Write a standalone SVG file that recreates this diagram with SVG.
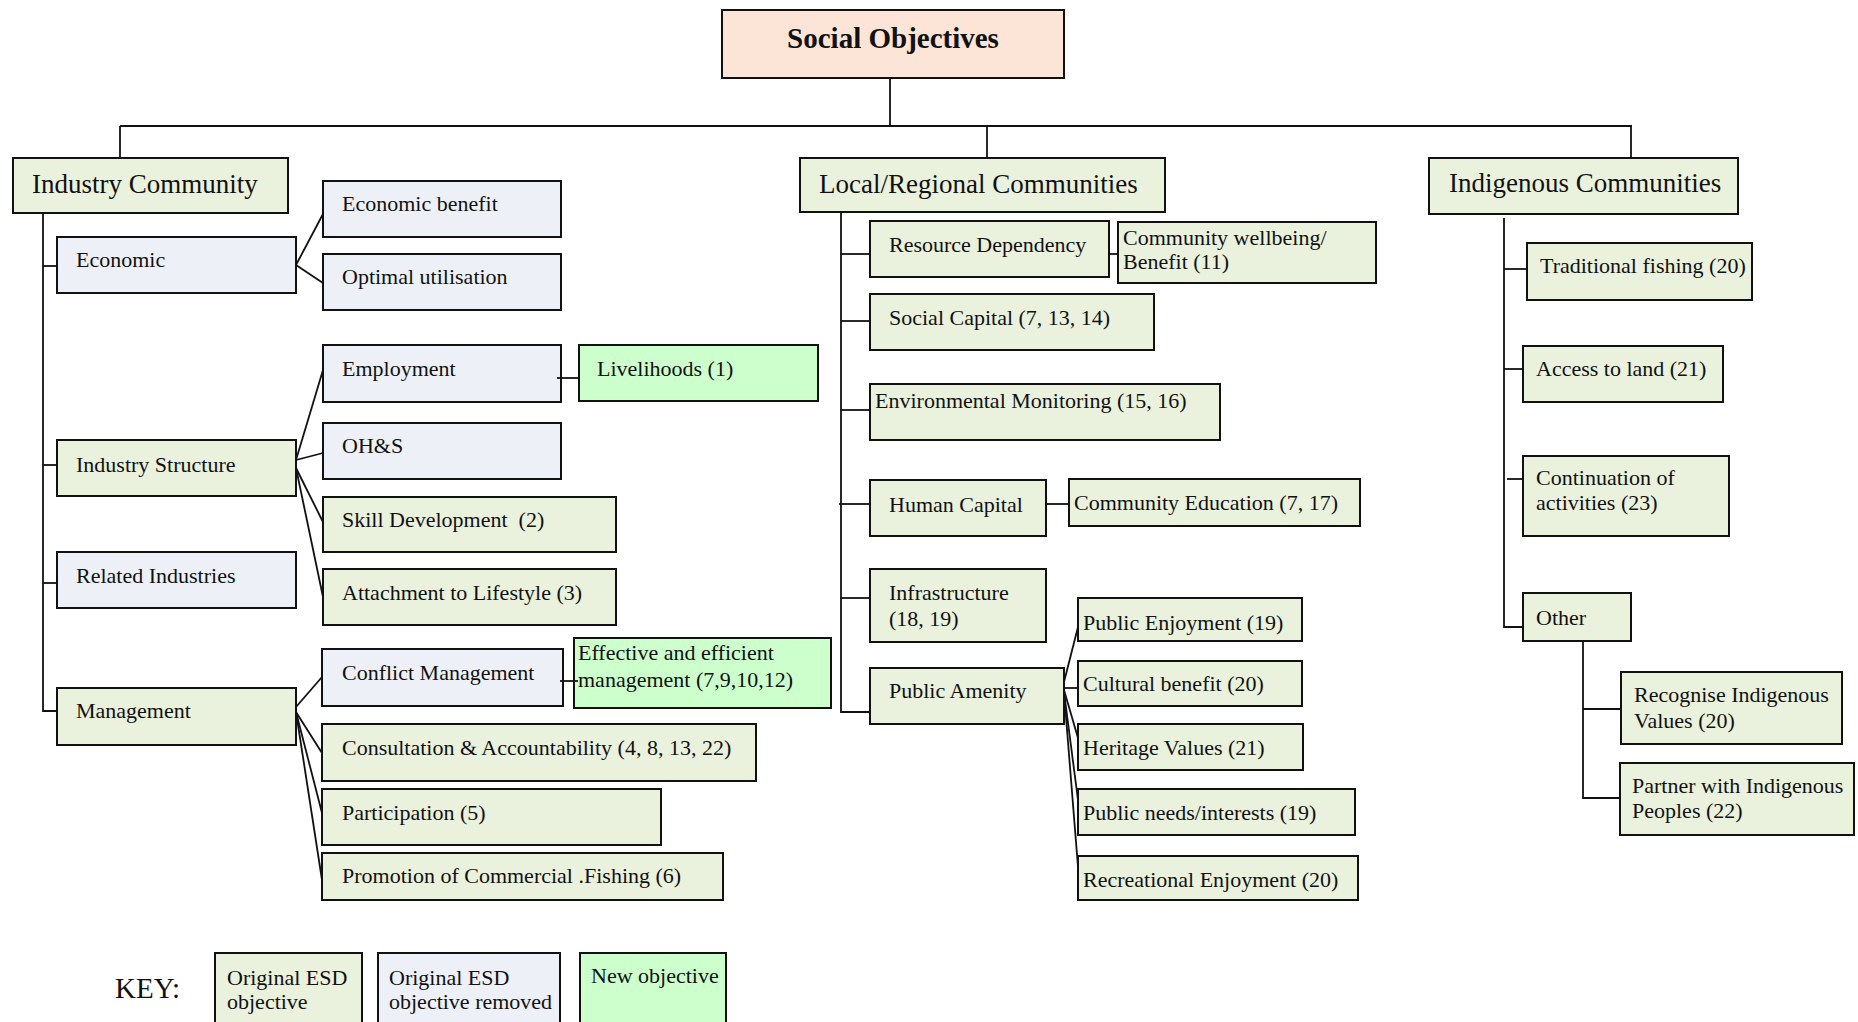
<svg xmlns="http://www.w3.org/2000/svg" width="1858" height="1022" viewBox="0 0 1858 1022">
  <style>
    rect { stroke: #111; stroke-width: 2; }
    .orig { fill: #EAF1DD; }
    .removed { fill: #EDF1F7; }
    .new { fill: #CCFFCC; }
    .title { fill: #FCE4D6; }
    text { font-family: "Liberation Serif", "Times New Roman", serif; font-size: 22px; fill: #111; }
    .hdr { font-size: 27px; }
    .ttl { font-size: 29px; font-weight: bold; }
    .key { font-size: 29px; }
    #connectors path { fill: none; stroke: #111; stroke-width: 1.8; }
  </style>
  <rect x="0" y="0" width="1858" height="1022" fill="#fff" style="stroke:none"/>

  <g id="social-objectives"><rect class="title" x="722" y="10" width="342" height="68"/><text class="ttl" x="893" y="48" text-anchor="middle">Social Objectives</text></g>

  <g id="industry-community"><rect class="orig" x="13" y="158" width="275" height="55"/><text class="hdr" x="32" y="193">Industry Community</text></g>
  <g id="local-regional"><rect class="orig" x="800" y="158" width="365" height="54"/><text class="hdr" x="819" y="193">Local/Regional Communities</text></g>
  <g id="indigenous"><rect class="orig" x="1429" y="158" width="309" height="56"/><text class="hdr" x="1449" y="192">Indigenous Communities</text></g>

  <g id="economic"><rect class="removed" x="57" y="237" width="239" height="56"/><text x="76" y="267">Economic</text></g>
  <g id="economic-benefit"><rect class="removed" x="323" y="181" width="238" height="56"/><text x="342" y="211">Economic benefit</text></g>
  <g id="optimal-utilisation"><rect class="removed" x="323" y="254" width="238" height="56"/><text x="342" y="284">Optimal utilisation</text></g>
  <g id="employment"><rect class="removed" x="323" y="345" width="238" height="57"/><text x="342" y="376">Employment</text></g>
  <g id="livelihoods"><rect class="new" x="579" y="345" width="239" height="56"/><text x="597" y="376">Livelihoods (1)</text></g>
  <g id="ohs"><rect class="removed" x="323" y="423" width="238" height="56"/><text x="342" y="453">OH&amp;S</text></g>
  <g id="industry-structure"><rect class="orig" x="57" y="440" width="239" height="56"/><text x="76" y="472">Industry Structure</text></g>
  <g id="skill-development"><rect class="orig" x="323" y="497" width="293" height="55"/><text x="342" y="527" xml:space="preserve">Skill Development  (2)</text></g>
  <g id="attachment-lifestyle"><rect class="orig" x="323" y="569" width="293" height="56"/><text x="342" y="600">Attachment to Lifestyle (3)</text></g>
  <g id="related-industries"><rect class="removed" x="57" y="552" width="239" height="56"/><text x="76" y="583">Related Industries</text></g>
  <g id="management"><rect class="orig" x="57" y="688" width="239" height="57"/><text x="76" y="718">Management</text></g>
  <g id="conflict-management"><rect class="removed" x="322" y="649" width="241" height="57"/><text x="342" y="680">Conflict Management</text></g>
  <g id="effective-management"><rect class="new" x="574" y="638" width="257" height="70"/><text x="578" y="660">Effective and efficient</text><text x="578" y="687">management (7,9,10,12)</text></g>
  <g id="consultation"><rect class="orig" x="322" y="724" width="434" height="57"/><text x="342" y="755">Consultation &amp; Accountability (4, 8, 13, 22)</text></g>
  <g id="participation"><rect class="orig" x="322" y="789" width="339" height="56"/><text x="342" y="820">Participation (5)</text></g>
  <g id="promotion"><rect class="orig" x="322" y="853" width="401" height="47"/><text x="342" y="883">Promotion of Commercial .Fishing (6)</text></g>

  <g id="resource-dependency"><rect class="orig" x="870" y="221" width="239" height="56"/><text x="889" y="252">Resource Dependency</text></g>
  <g id="community-wellbeing"><rect class="orig" x="1118" y="222" width="258" height="61"/><text x="1123" y="245">Community wellbeing/</text><text x="1123" y="269">Benefit (11)</text></g>
  <g id="social-capital"><rect class="orig" x="870" y="294" width="284" height="56"/><text x="889" y="325">Social Capital (7, 13, 14)</text></g>
  <g id="environmental-monitoring"><rect class="orig" x="870" y="384" width="350" height="56"/><text x="875" y="408">Environmental Monitoring (15, 16)</text></g>
  <g id="human-capital"><rect class="orig" x="870" y="480" width="176" height="56"/><text x="889" y="512">Human Capital</text></g>
  <g id="community-education"><rect class="orig" x="1069" y="479" width="291" height="47"/><text x="1074" y="510">Community Education (7, 17)</text></g>
  <g id="infrastructure"><rect class="orig" x="870" y="569" width="176" height="73"/><text x="889" y="600">Infrastructure</text><text x="889" y="626">(18, 19)</text></g>
  <g id="public-amenity"><rect class="orig" x="870" y="668" width="194" height="56"/><text x="889" y="698">Public Amenity</text></g>
  <g id="public-enjoyment"><rect class="orig" x="1078" y="598" width="224" height="43"/><text x="1083" y="630">Public Enjoyment (19)</text></g>
  <g id="cultural-benefit"><rect class="orig" x="1078" y="661" width="224" height="45"/><text x="1083" y="691">Cultural benefit (20)</text></g>
  <g id="heritage-values"><rect class="orig" x="1078" y="724" width="225" height="46"/><text x="1083" y="755">Heritage Values (21)</text></g>
  <g id="public-needs"><rect class="orig" x="1078" y="789" width="277" height="46"/><text x="1083" y="820">Public needs/interests (19)</text></g>
  <g id="recreational-enjoyment"><rect class="orig" x="1078" y="856" width="280" height="44"/><text x="1083" y="887">Recreational Enjoyment (20)</text></g>

  <g id="traditional-fishing"><rect class="orig" x="1527" y="243" width="225" height="57"/><text x="1540" y="273">Traditional fishing (20)</text></g>
  <g id="access-to-land"><rect class="orig" x="1523" y="346" width="200" height="56"/><text x="1536" y="376">Access to land (21)</text></g>
  <g id="continuation"><rect class="orig" x="1523" y="456" width="206" height="80"/><text x="1536" y="485">Continuation of</text><text x="1536" y="510">activities (23)</text></g>
  <g id="other"><rect class="orig" x="1523" y="593" width="108" height="48"/><text x="1536" y="625">Other</text></g>
  <g id="recognise-values"><rect class="orig" x="1621" y="672" width="221" height="72"/><text x="1634" y="702">Recognise Indigenous</text><text x="1634" y="728">Values (20)</text></g>
  <g id="partner-peoples"><rect class="orig" x="1620" y="763" width="234" height="72"/><text x="1632" y="793">Partner with Indigenous</text><text x="1632" y="818">Peoples (22)</text></g>

  <g id="legend">
    <text class="key" x="115" y="998">KEY:</text>
    <g id="key-original"><rect class="orig" x="215" y="953" width="147" height="80"/><text x="227" y="985">Original ESD</text><text x="227" y="1009">objective</text></g>
    <g id="key-removed"><rect class="removed" x="378" y="953" width="182" height="80"/><text x="389" y="985">Original ESD</text><text x="389" y="1009">objective removed</text></g>
    <g id="key-new"><rect class="new" x="580" y="953" width="146" height="80"/><text x="591" y="983">New objective</text></g>
  </g>

  <!-- connectors drawn last so the short links overlap box edges -->
  <g id="connectors">
    <path d="M890,78 V126"/>
    <path d="M120,126 H1632"/>
    <path d="M120,126 V158"/>
    <path d="M987,126 V158"/>
    <path d="M1631,126 V158"/>
    <!-- industry community branch -->
    <path d="M43,213 V711 H57"/>
    <path d="M43,266 H57"/>
    <path d="M43,465 H57"/>
    <path d="M43,583 H57"/>
    <path d="M296,265 L323,214"/>
    <path d="M296,265 L323,283"/>
    <path d="M296,460 L323,370"/>
    <path d="M296,460 L323,453"/>
    <path d="M296,468 L323,522"/>
    <path d="M296,468 L323,597"/>
    <path d="M557,378 H579"/>
    <path d="M296,707 L322,677"/>
    <path d="M296,712 L322,753"/>
    <path d="M296,712 L322,813"/>
    <path d="M296,712 L322,880"/>
    <path d="M560,681 H578"/>
    <!-- local/regional branch -->
    <path d="M841,212 V712 H870"/>
    <path d="M841,254 H870"/>
    <path d="M841,321 H870"/>
    <path d="M841,410 H870"/>
    <path d="M839,504 H870"/>
    <path d="M841,598 H870"/>
    <path d="M1109,254 H1118"/>
    <path d="M1046,504 H1069"/>
    <path d="M1064,682 L1078,627"/>
    <path d="M1064,688 H1078"/>
    <path d="M1064,690 L1078,738"/>
    <path d="M1064,692 L1078,800"/>
    <path d="M1064,692 L1078,867"/>
    <!-- indigenous branch -->
    <path d="M1504,218 V627 H1523"/>
    <path d="M1504,269 H1527"/>
    <path d="M1504,369 H1523"/>
    <path d="M1507,479 H1523"/>
    <path d="M1583,641 V798 H1620"/>
    <path d="M1583,709 H1621"/>
  </g>
</svg>
